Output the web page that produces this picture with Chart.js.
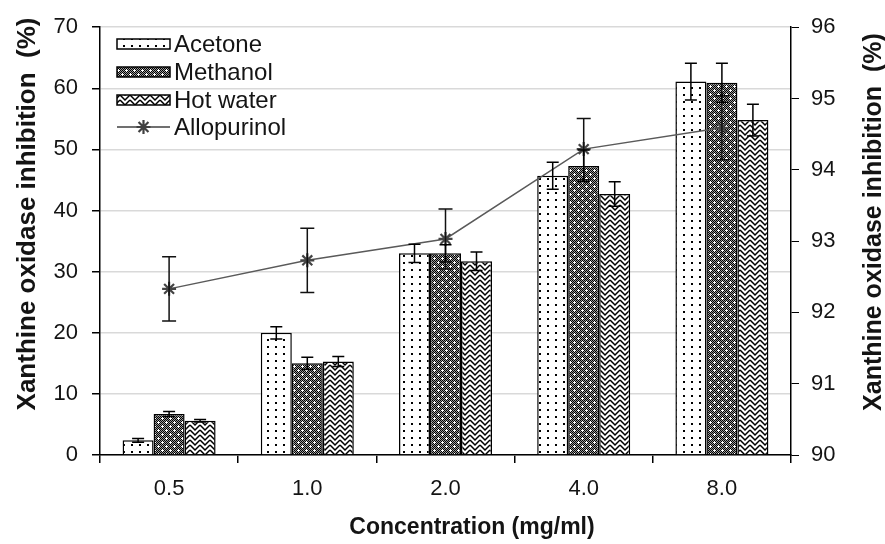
<!DOCTYPE html>
<html>
<head>
<meta charset="utf-8">
<script src="https://cdn.jsdelivr.net/npm/chart.js@4.4.1/dist/chart.umd.min.js"></script>
<style>
html,body{margin:0;padding:0;background:#fff;}
#wrap{position:relative;width:885px;height:544px;}
</style>
</head>
<body>
<div id="wrap"><canvas id="c" width="885" height="544"></canvas></div>
<script>
// ---- data ----
const categories = ['0.5', '1.0', '2.0', '4.0', '8.0'];
const acetone = [2.4, 20.0, 33.0, 45.7, 61.1];
const acetoneErr = [0.3, 1.0, 1.5, 2.2, 3.0];
const methanol = [6.7, 15.0, 33.0, 47.3, 60.9];
const methanolErr = [0.4, 1.0, 1.4, 2.6, 3.2];
const hotWater = [5.6, 15.3, 31.7, 42.7, 54.8];
const hotWaterErr = [0.2, 0.8, 1.5, 2.0, 2.6];
const allopurinol = [92.33, 92.73, 93.03, 94.29, 94.59];
const allopurinolErr = [0.45, 0.45, 0.42, 0.43, 0.45];
const leftTicks = [0, 10, 20, 30, 40, 50, 60, 70];
const rightTicks = [90, 91, 92, 93, 94, 95, 96];
const yTitle = 'Xanthine oxidase inhibition  (%)';
const xTitle = 'Concentration (mg/ml)';

// ---- patterns ----
function tile(w, h, draw) {
  const c = document.createElement('canvas');
  c.width = w; c.height = h;
  const g = c.getContext('2d');
  draw(g, w, h);
  return document.getElementById('c').getContext('2d').createPattern(c, 'repeat');
}
const dotPattern = tile(8, 7, (g) => {
  g.fillStyle = '#fff'; g.fillRect(0, 0, 8, 7);
  g.fillStyle = '#000'; g.fillRect(3, 3, 2, 2);
});
const meshPattern = tile(8, 8, (g) => {
  for (let y = 0; y < 8; y++) for (let x = 0; x < 8; x++) {
    g.fillStyle = ((x + y) % 2 === 0) ? '#000' : '#9a9a9a';
    g.fillRect(x, y, 1, 1);
  }
  g.fillStyle = '#fff';
  g.fillRect(1, 2, 3, 1); g.fillRect(2, 1, 1, 3);
  g.fillRect(5, 6, 3, 1); g.fillRect(6, 5, 1, 3);
});
const zigPattern = tile(10, 10, (g) => {
  g.fillStyle = '#fff'; g.fillRect(0, 0, 10, 10);
  g.strokeStyle = '#000'; g.lineWidth = 1.5;
  for (let yo = -5; yo <= 10; yo += 5) {
    g.beginPath(); g.moveTo(0, yo); g.lineTo(5, yo + 5); g.lineTo(10, yo); g.stroke();
  }
});

const TXT = '#141414';
const FONT = "'Liberation Sans', Arial, sans-serif";

// ---- error bar plugin ----
const errorBars = {
  id: 'errorBars',
  afterDatasetsDraw(chart) {
    const ctx = chart.ctx;
    chart.data.datasets.forEach((ds, di) => {
      if (!ds.errors) return;
      const meta = chart.getDatasetMeta(di);
      const sc = chart.scales[meta.yAxisID];
      ctx.save();
      ctx.strokeStyle = ds.errColor || '#000';
      ctx.lineWidth = 1.5;
      meta.data.forEach((el, i) => {
        const v = ds.data[i], e = ds.errors[i];
        const x = el.x;
        const y1 = sc.getPixelForValue(v + e), y2 = sc.getPixelForValue(v - e);
        const cw = ds.capWidth || 6;
        ctx.beginPath();
        ctx.moveTo(x, y1); ctx.lineTo(x, y2);
        ctx.moveTo(x - cw, y1); ctx.lineTo(x + cw, y1);
        ctx.moveTo(x - cw, y2); ctx.lineTo(x + cw, y2);
        ctx.stroke();
      });
      ctx.restore();
    });
  }
};

// ---- legend + axis titles plugin ----
const extras = {
  id: 'extras',
  afterDraw(chart) {
    const ctx = chart.ctx;
    ctx.save();
    const items = [
      { label: 'Acetone', fill: dotPattern },
      { label: 'Methanol', fill: meshPattern },
      { label: 'Hot water', fill: zigPattern },
      { label: 'Allopurinol', line: true }
    ];
    const x0 = 117, w = 53, rows = [44, 72, 100, 127];
    ctx.font = '24px ' + FONT;
    ctx.textBaseline = 'middle';
    items.forEach((it, i) => {
      const cy = rows[i];
      if (it.line) {
        ctx.strokeStyle = '#404040'; ctx.lineWidth = 1.5;
        ctx.beginPath(); ctx.moveTo(x0, cy); ctx.lineTo(x0 + w, cy); ctx.stroke();
        const cx = x0 + w / 2, r = 7;
        ctx.lineWidth = 2.2;
        ctx.beginPath();
        ctx.moveTo(cx - r, cy); ctx.lineTo(cx + r, cy);
        ctx.moveTo(cx, cy - r); ctx.lineTo(cx, cy + r);
        const d = r * 0.7071;
        ctx.moveTo(cx - d, cy - d); ctx.lineTo(cx + d, cy + d);
        ctx.moveTo(cx - d, cy + d); ctx.lineTo(cx + d, cy - d);
        ctx.stroke();
      } else {
        ctx.fillStyle = it.fill;
        ctx.fillRect(x0, cy - 5, w, 10);
        ctx.strokeStyle = '#000'; ctx.lineWidth = 1.5;
        ctx.strokeRect(x0, cy - 5, w, 10);
      }
      ctx.fillStyle = TXT;
      ctx.textAlign = 'left';
      ctx.fillText(it.label, x0 + w + 4, cy + 1);
    });
    ctx.fillStyle = TXT;
    ctx.textAlign = 'center';
    ctx.textBaseline = 'middle';
    // x axis title
    ctx.font = 'bold 23px ' + FONT;
    ctx.fillText(xTitle, 472, 528);
    // left axis title
    ctx.font = 'bold 26px ' + FONT;
    ctx.save();
    ctx.translate(28, 214);
    ctx.rotate(-Math.PI / 2);
    ctx.fillText(yTitle, 0, 0);
    ctx.restore();
    // right axis title (reads bottom to top)
    ctx.font = 'bold 25px ' + FONT;
    ctx.save();
    ctx.translate(874, 222);
    ctx.rotate(-Math.PI / 2);
    ctx.fillText(yTitle, 0, 0);
    ctx.restore();
    ctx.restore();
  }
};

const tickFont = { family: FONT, size: 22 };

new Chart(document.getElementById('c'), {
  data: {
    labels: categories,
    datasets: [
      { type: 'line', label: 'Allopurinol', data: allopurinol, errors: allopurinolErr, errColor: '#111', capWidth: 7,
        yAxisID: 'y1', order: 0, borderColor: '#5a5a5a', borderWidth: 1.5,
        pointStyle: 'star', pointRadius: 7, pointBorderWidth: 2.2, pointBorderColor: '#444', pointBackgroundColor: '#444' },
      { type: 'bar', label: 'Acetone', data: acetone, errors: acetoneErr, yAxisID: 'y', order: 1,
        backgroundColor: dotPattern, borderColor: '#000', borderWidth: 1.5 },
      { type: 'bar', label: 'Methanol', data: methanol, errors: methanolErr, yAxisID: 'y', order: 1,
        backgroundColor: meshPattern, borderColor: '#000', borderWidth: 1.5 },
      { type: 'bar', label: 'Hot water', data: hotWater, errors: hotWaterErr, yAxisID: 'y', order: 1,
        backgroundColor: zigPattern, borderColor: '#000', borderWidth: 1.5 }
    ]
  },
  options: {
    responsive: false,
    animation: false,
    devicePixelRatio: 1,
    layout: { padding: { top: 24, left: 0, right: 0, bottom: 0 } },
    datasets: { bar: { barPercentage: 1.0, categoryPercentage: 0.673 } },
    plugins: { legend: { display: false }, tooltip: { enabled: false } },
    scales: {
      x: {
        type: 'category', offset: true,
        grid: { offset: true, drawOnChartArea: false, drawTicks: true, tickLength: 8, tickColor: '#000', lineWidth: 1.5 },
        border: { color: '#000', width: 1.5 },
        ticks: { font: tickFont, color: TXT, padding: 13 },
        title: { display: false, text: xTitle },
        afterFit(s) { s.height = 89; }
      },
      y: {
        position: 'left', min: 0, max: 70,
        afterBuildTicks(s) { s.ticks = leftTicks.map(v => ({ value: v })); },
        grid: { color: '#d9d9d9', lineWidth: 1.5, drawTicks: true, tickLength: 8, tickColor: '#000' },
        border: { color: '#000', width: 1.5 },
        ticks: { font: tickFont, color: TXT, padding: 14 },
        title: { display: false, text: yTitle },
        afterFit(s) { s.width = 100; }
      },
      y1: {
        position: 'right', min: 90, max: 96,
        afterBuildTicks(s) { s.ticks = rightTicks.map(v => ({ value: v })); },
        grid: { drawOnChartArea: false, drawTicks: true, tickLength: 8, tickColor: '#000' },
        border: { color: '#000', width: 1.5 },
        ticks: { font: tickFont, color: TXT, padding: 12 },
        title: { display: false, text: yTitle },
        afterFit(s) { s.width = 94; }
      }
    }
  },
  plugins: [errorBars, extras]
});
</script>
</body>
</html>
